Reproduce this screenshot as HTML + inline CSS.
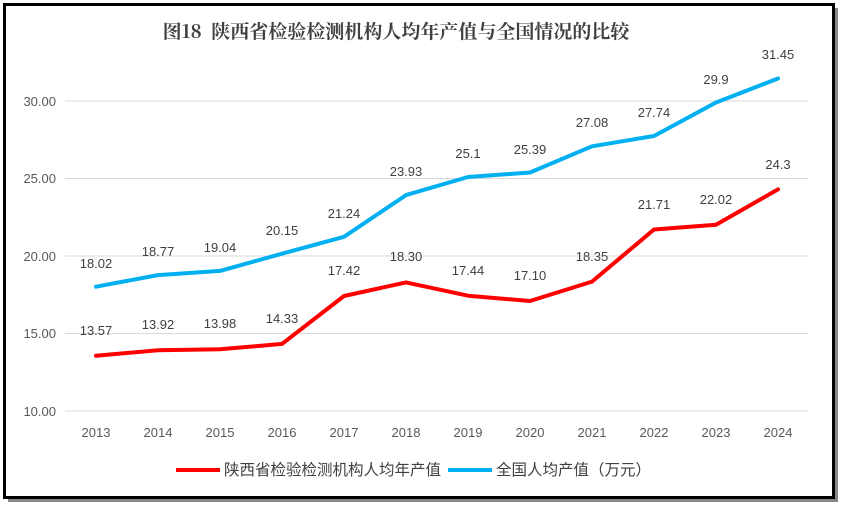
<!DOCTYPE html><html><head><meta charset="utf-8"><style>body{margin:0;background:#fff}svg{display:block;font-family:"Liberation Sans","Noto Sans CJK SC",sans-serif}</style></head><body>
<svg width="843" height="510" xmlns="http://www.w3.org/2000/svg">
<rect x="0" y="0" width="843" height="510" fill="#fff"/>
<rect x="8" y="8" width="830" height="494" fill="#888"/>
<rect x="4.5" y="4.5" width="829" height="493" fill="#fff" stroke="#000" stroke-width="3"/>
<text x="396" y="38" text-anchor="middle" font-size="19" font-weight="bold" fill="#404040" font-family="'Noto Serif CJK SC','Liberation Serif',serif" xml:space="preserve">图18  陕西省检验检测机构人均年产值与全国情况的比较</text>
<g stroke="#d9d9d9" stroke-width="1">
<line x1="65" x2="808" y1="101" y2="101"/><line x1="65" x2="808" y1="178.5" y2="178.5"/><line x1="65" x2="808" y1="256" y2="256"/><line x1="65" x2="808" y1="333.5" y2="333.5"/><line x1="65" x2="808" y1="411" y2="411"/></g>
<g font-size="13" fill="#595959" text-anchor="end"><text x="56" y="106">30.00</text><text x="56" y="183">25.00</text><text x="56" y="261">20.00</text><text x="56" y="338">15.00</text><text x="56" y="416">10.00</text></g>
<g font-size="13" fill="#595959" text-anchor="middle"><text x="96" y="437">2013</text><text x="158" y="437">2014</text><text x="220" y="437">2015</text><text x="282" y="437">2016</text><text x="344" y="437">2017</text><text x="406" y="437">2018</text><text x="468" y="437">2019</text><text x="530" y="437">2020</text><text x="592" y="437">2021</text><text x="654" y="437">2022</text><text x="716" y="437">2023</text><text x="778" y="437">2024</text></g>
<polyline fill="none" stroke="#00b0f0" stroke-width="4" stroke-linejoin="round" stroke-linecap="round" points="96,286.7 158,275.1 220,270.9 282,253.7 344,236.8 406,195.1 468,177 530,172.5 592,146.3 654,136 716,102.5 778,78.5"/>
<polyline fill="none" stroke="#ff0000" stroke-width="4" stroke-linejoin="round" stroke-linecap="round" points="96,355.7 158,350.2 220,349.3 282,343.9 344,296 406,282.4 468,295.7 530,301 592,281.6 654,229.5 716,224.7 778,189.4"/>
<g font-size="13" fill="#404040" text-anchor="middle">
<text x="96" y="268">18.02</text><text x="158" y="256">18.77</text><text x="220" y="252">19.04</text><text x="282" y="235">20.15</text><text x="344" y="218">21.24</text><text x="406" y="176">23.93</text><text x="468" y="158">25.1</text><text x="530" y="154">25.39</text><text x="592" y="127">27.08</text><text x="654" y="117">27.74</text><text x="716" y="84">29.9</text><text x="778" y="59">31.45</text>
<text x="96" y="335">13.57</text><text x="158" y="329">13.92</text><text x="220" y="328">13.98</text><text x="282" y="323">14.33</text><text x="344" y="275">17.42</text><text x="406" y="261">18.30</text><text x="468" y="275">17.44</text><text x="530" y="280">17.10</text><text x="592" y="261">18.35</text><text x="654" y="209">21.71</text><text x="716" y="204">22.02</text><text x="778" y="169">24.3</text></g>
<line x1="176" x2="220" y1="470" y2="470" stroke="#ff0000" stroke-width="4"/>
<text x="224" y="475" font-size="15.5" fill="#404040">陕西省检验检测机构人均年产值</text>
<line x1="448" x2="492" y1="470" y2="470" stroke="#00b0f0" stroke-width="4"/>
<text x="496" y="475" font-size="15.5" fill="#404040">全国人均产值（万元）</text>
</svg></body></html>
